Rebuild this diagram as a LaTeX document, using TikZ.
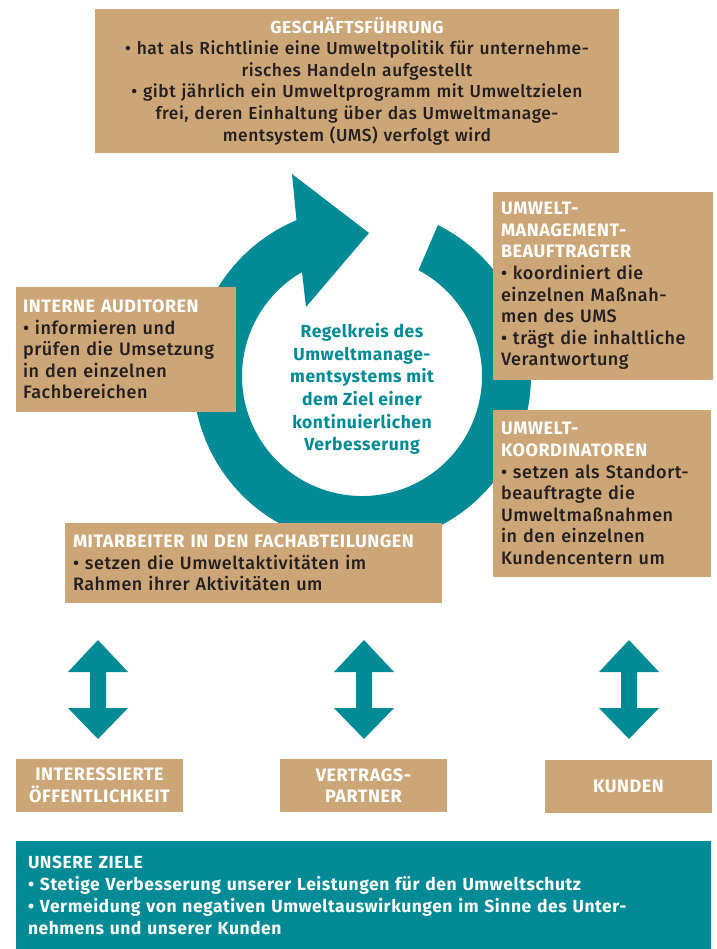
\documentclass[tikz,border=0pt]{standalone}
\usepackage{fontspec}
\setmainfont{Fira Sans}[UprightFont=* Medium, BoldFont=* Bold, LetterSpace=3]
\definecolor{tanc}{RGB}{205,166,119}
\definecolor{tealc}{RGB}{0,139,150}
\definecolor{darkc}{RGB}{35,31,32}
\newcommand{\bul}[1]{\par\hangindent=12pt\hangafter=1\noindent\makebox[12pt][l]{•}#1}
\newcommand{\ttl}[1]{\textcolor{white}{\bfseries #1}}
\begin{document}
\begin{tikzpicture}[x=1pt,y=-1pt,
  tanbox/.style={fill=tanc, inner ysep=0pt, text=darkc, align=left,
    font=\fontsize{18}{21.6}\selectfont},
  smallbox/.style={fill=tanc, inner sep=0pt, text=white, align=center,
    font=\bfseries\fontsize{18}{21.6}\selectfont, minimum width=167, minimum height=53},
  dblarrow/.style={fill=tealc}]
\useasboundingbox (0,0) rectangle (716,949);
% ring
\fill[tealc] (437.9,225) arc[start angle=-63.3, end angle=247.2, radius=169]
  -- (292,174) -- (369,233) -- (306,307) -- (302,272.1)
  arc[start angle=240, end angle=-61.9, radius=120] -- cycle;
\node[text=tealc, align=center, font=\bfseries\fontsize{17.5}{22.6}\selectfont] (center) at (362,389)
  {Regelkreis des\\Umweltmanage-\\mentsystems mit\\dem Ziel einer\\kontinuierlichen\\Verbesserung};
% top box
\node[tanbox, align=center, minimum width=524, minimum height=144, text width=510, inner xsep=7,
  font=\fontsize{17.4}{21.6}\selectfont] (gf) at (357,81)
  {\ttl{GESCHÄFTSFÜHRUNG}\\
   • hat als Richtlinie eine Umweltpolitik für unternehme-\\risches Handeln aufgestellt\\
   • gibt jährlich ein Umweltprogramm mit Umweltzielen\\frei, deren Einhaltung über das Umweltmanage-\\mentsystem (UMS) verfolgt wird};
% right boxes
\node[tanbox, minimum width=220, minimum height=188, text width=204, inner xsep=8] (umb) at (603,286)
  {\ttl{UMWELT-\\MANAGEMENT-\\BEAUFTRAGTER}
   \bul{koordiniert die\\einzelnen Maßnah-\\men des UMS}
   \bul{trägt die inhaltliche\\Verantwortung}};
\node[tanbox, minimum width=218, minimum height=167, text width=202, inner xsep=8] (uko) at (602,493.5)
  {\ttl{UMWELT-\\KOORDINATOREN}
   \bul{setzen als Standort-\\beauftragte die\\Umweltmaßnahmen\\in den einzelnen\\Kundencentern um}};
% left box
\node[tanbox, minimum width=220, minimum height=125, text width=206, inner xsep=7] (aud) at (126,349.5)
  {\ttl{INTERNE AUDITOREN}
   \bul{informieren und\\prüfen die Umsetzung\\in den einzelnen\\Fachbereichen}};
% Mitarbeiter
\node[tanbox, minimum width=377, minimum height=80, text width=361, inner xsep=8] (mit) at (253.5,563)
  {\ttl{MITARBEITER IN DEN FACHABTEILUNGEN}
   \bul{setzen die Umweltaktivitäten im\\Rahmen ihrer Aktivitäten um}};
% double arrows
\foreach \cx in {98,364,629}{
  \fill[dblarrow] (\cx,640) -- (\cx+30,672) -- (\cx+8,672) -- (\cx+8,708) -- (\cx+30,708)
    -- (\cx,739) -- (\cx-30,708) -- (\cx-8,708) -- (\cx-8,672) -- (\cx-30,672) -- cycle;
}
% bottom boxes
\node[smallbox] (oef) at (99.5,785.5) {INTERESSIERTE\\ÖFFENTLICHKEIT};
\node[smallbox] (ver) at (363.5,785.5) {VERTRAGS-\\PARTNER};
\node[smallbox] (kun) at (628.5,786.5) {KUNDEN};
% goals
\node[fill=tealc, text=white, align=left, inner ysep=0pt, inner xsep=12, minimum width=695, minimum height=108,
  text width=671, font=\bfseries\fontsize{17.5}{22}\selectfont] (ziele) at (363.5,895)
  {UNSERE ZIELE
   \bul{Stetige Verbesserung unserer Leistungen für den Umweltschutz}
   \bul{Vermeidung von negativen Umweltauswirkungen im Sinne des Unter-\\nehmens und unserer Kunden}};
\end{tikzpicture}
\end{document}
